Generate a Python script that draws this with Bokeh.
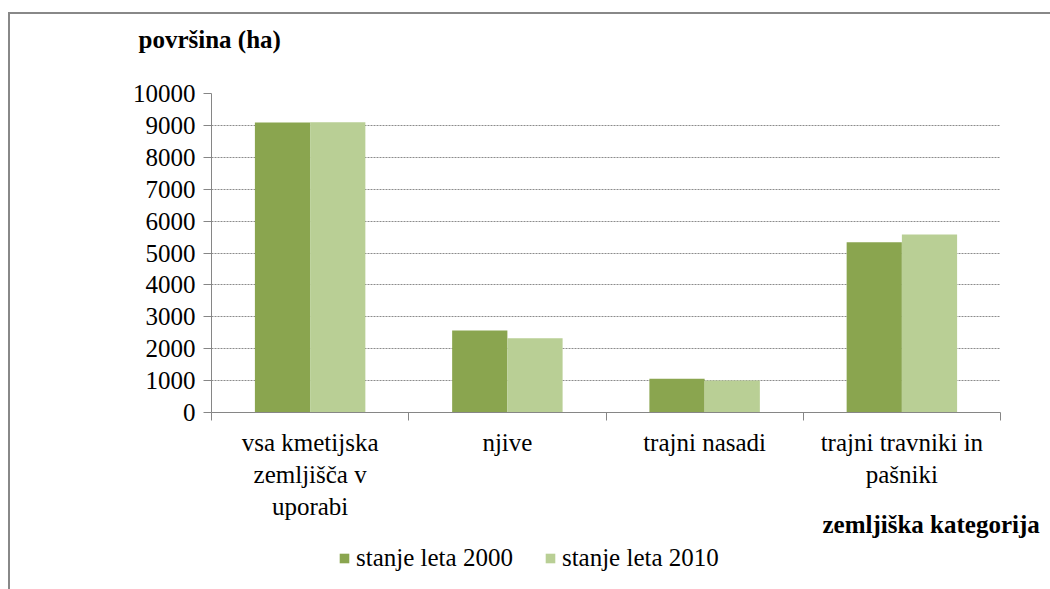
from bokeh.plotting import figure
from bokeh.layouts import column
from bokeh.models import (Range1d, FixedTicker, Legend, LegendItem, Title)
from bokeh.embed import file_html
from bokeh.resources import INLINE

categories = ["vsa kmetijska\nzemljišča v\nuporabi", "njive", "trajni nasadi",
              "trajni travniki in\npašniki"]
series_names = ["stanje leta 2000", "stanje leta 2010"]
v2000 = [9090, 2570, 1060, 5340]
v2010 = [9100, 2330, 1000, 5580]
y_ticks = list(range(0, 10001, 1000))
title_text = "površina (ha)"
xlabel_text = "zemljiška kategorija"

FONT = "Times"
FS = "25px"
C_DARK = "#8aa54f"
C_LIGHT = "#b9cf95"
GRAY = "#868686"

W = 1040
H0, H1 = 60, 466
H2 = 575 - H0 - H1


def blank(height):
    f = figure(width=W, height=height, output_backend="svg", toolbar_location=None,
               x_axis_location=None, y_axis_location=None,
               min_border_left=0, min_border_right=0, min_border_top=0,
               min_border_bottom=0, x_range=Range1d(0, 1), y_range=Range1d(0, 1))
    f.outline_line_color = None
    f.xgrid.visible = False
    f.ygrid.visible = False
    f.background_fill_color = "white"
    f.border_fill_color = "white"
    return f


# title strip
p0 = blank(H0)
p0.add_layout(Title(text=title_text, align="left", offset=-73, standoff=22,
                    vertical_align="top",
                    text_font=FONT, text_font_size=FS, text_font_style="bold",
                    text_color="black"), "above")

# main chart
p = figure(width=W, height=H1, output_backend="svg", toolbar_location=None,
           x_range=Range1d(0, len(categories)), y_range=Range1d(0, 10000),
           min_border_left=201, min_border_right=50, min_border_top=19,
           min_border_bottom=128)
p.outline_line_color = None
p.background_fill_color = "white"
p.border_fill_color = "white"

n = len(categories)
centers = [i + 0.5 for i in range(n)]
bw = 0.28
x_a = [c - bw / 2 for c in centers]
x_b = [c + bw / 2 for c in centers]
r1 = p.vbar(x=x_a, top=v2000, width=bw, fill_color=C_DARK, line_color=None)
r2 = p.vbar(x=x_b, top=v2010, width=bw, fill_color=C_LIGHT, line_color=None)

ya = p.yaxis[0]
ya.ticker = FixedTicker(ticks=y_ticks)
ya.axis_line_color = GRAY
ya.major_tick_line_color = GRAY
ya.major_tick_out = 8
ya.major_tick_in = 0
ya.minor_tick_line_color = None
ya.major_label_text_font = FONT
ya.major_label_text_font_size = FS
ya.major_label_text_color = "black"
ya.major_label_standoff = 8

xa = p.xaxis[0]
xa.ticker = FixedTicker(ticks=centers, minor_ticks=list(range(n + 1)))
xa.major_label_overrides = {c: lab for c, lab in zip(centers, categories)}
xa.axis_line_color = GRAY
xa.major_tick_line_color = None
xa.major_tick_out = 0
xa.major_tick_in = 0
xa.minor_tick_line_color = GRAY
xa.minor_tick_out = 8
xa.minor_tick_in = 0
xa.major_label_text_font = FONT
xa.major_label_text_font_size = FS
xa.major_label_text_color = "black"
xa.major_label_standoff = 8

p.xgrid.grid_line_color = None
p.ygrid.ticker = FixedTicker(ticks=y_ticks[1:])
p.ygrid.grid_line_color = "#8c8c8c"
p.ygrid.grid_line_dash = "2 1"
p.ygrid.grid_line_width = 1

p.add_layout(Title(text=xlabel_text, align="left", offset=611, standoff=-26,
                   vertical_align="top",
                   text_font=FONT, text_font_size=FS, text_font_style="bold",
                   text_color="black"), "below")

# legend strip
p2 = blank(H2)
d1 = p2.vbar(x=[-1], top=[0], width=0.1, fill_color=C_DARK, line_color=None)
d2 = p2.vbar(x=[-1], top=[0], width=0.1, fill_color=C_LIGHT, line_color=None)
legend = Legend(items=[LegendItem(label=series_names[0], renderers=[d1]),
                       LegendItem(label=series_names[1], renderers=[d2])],
                orientation="horizontal", location=(127, 17),
                label_text_font=FONT, label_text_font_size=FS,
                label_text_color="black",
                glyph_width=12, glyph_height=12, label_standoff=6, spacing=31,
                padding=0, margin=0, border_line_color=None,
                background_fill_alpha=0)
p2.add_layout(legend, "center")

layout = column(p0, p, p2, spacing=0)
layout.styles = {"border-top": "2px solid #888888", "border-left": "2px solid #888888",
                 "margin-top": "12px", "margin-left": "8px"}

open("out.html", "w").write(file_html(layout, INLINE))
